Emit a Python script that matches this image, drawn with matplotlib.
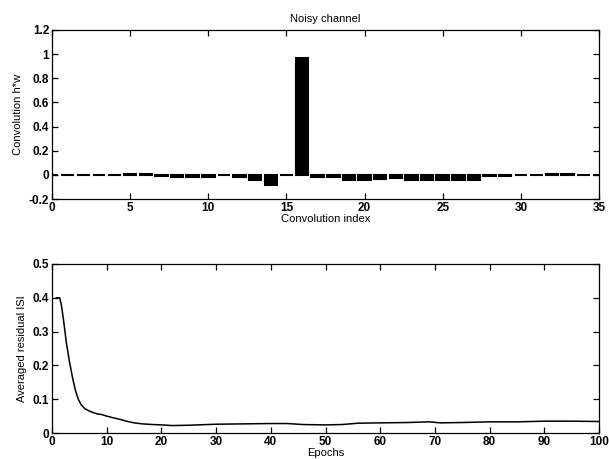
import numpy as np
import matplotlib
matplotlib.use("Agg")
import matplotlib.pyplot as plt
import matplotlib.ticker as mticker

plt.rcParams["font.family"] = ["Liberation Sans", "DejaVu Sans"]

# ── Data: convolution of channel and equalizer (noisy channel) ─────────────
conv_index = list(range(0, 36))
conv_value = [0.0, 0.0, 0.0, 0.0, 0.002, 0.01, 0.006, -0.01, -0.015, -0.015,
              -0.02, -0.005, -0.02, -0.04, -0.08, -0.005, 0.97, -0.02, -0.015, -0.04,
              -0.045, -0.035, -0.03, -0.04, -0.04, -0.04, -0.04, -0.04, -0.012, -0.01,
              -0.005, -0.003, 0.003, 0.005, 0.0, 0.0]

# ── Data: averaged residual ISI vs training epochs ─────────────────────────
epochs = [0.8, 1.4, 1.7, 2.1, 2.6, 3.2, 3.8, 4.3, 4.8, 5.4, 6.0, 6.8, 7.6, 8.4, 9.0,
          10.0, 11.2, 12.5, 13.6, 15.0, 16.5, 18.5, 20, 22, 25, 30, 35, 40, 43, 46,
          50, 53, 56, 60, 65, 69, 71, 75, 80, 85, 90, 95, 100]
isi = [0.40, 0.40, 0.38, 0.335, 0.27, 0.21, 0.16, 0.125, 0.10, 0.082, 0.072, 0.065,
       0.060, 0.056, 0.055, 0.050, 0.045, 0.040, 0.035, 0.030, 0.027, 0.025, 0.024,
       0.022, 0.023, 0.026, 0.027, 0.028, 0.028, 0.025, 0.024, 0.025, 0.029, 0.030,
       0.031, 0.033, 0.030, 0.031, 0.033, 0.033, 0.035, 0.035, 0.034]

conv_ticks_x = [0, 5, 10, 15, 20, 25, 30, 35]
conv_ticks_y = [-0.2, 0, 0.2, 0.4, 0.6, 0.8, 1.0, 1.2]
isi_ticks_x = list(range(0, 101, 10))
isi_ticks_y = [0, 0.1, 0.2, 0.3, 0.4, 0.5]

W, H = 609, 459
fig = plt.figure(figsize=(W / 100, H / 100), dpi=100, facecolor="white")

def box(l, t, r, b):
    return [l / W, 1 - b / H, (r - l) / W, (b - t) / H]

ax1 = fig.add_axes(box(52, 30, 599, 199))
ax2 = fig.add_axes(box(52, 264, 599, 433))

def style(ax):
    ax.tick_params(direction="in", length=4, width=0.9, top=True, right=True,
                   labelsize=8.5, pad=2, colors="black")
    for lab in ax.get_xticklabels() + ax.get_yticklabels():
        lab.set_fontweight("bold")
    for sp in ax.spines.values():
        sp.set_linewidth(0.9)
    ax.xaxis.set_major_formatter(mticker.FormatStrFormatter("%g"))
    ax.yaxis.set_major_formatter(mticker.FormatStrFormatter("%g"))

# ── Top: bar chart ─────────────────────────────────────────────────────────
ax1.bar(conv_index, conv_value, width=0.8, color="black", edgecolor="black", linewidth=1.5)
ax1.set_xlim(0, 35)
ax1.set_ylim(-0.2, 1.2)
ax1.set_xticks(conv_ticks_x)
ax1.set_yticks(conv_ticks_y)
style(ax1)
ax1.set_title("Noisy channel", fontsize=8, pad=6)
ax1.set_xlabel("Convolution index", fontsize=8, labelpad=0)
ax1.set_ylabel("Convolution h*w", fontsize=8, labelpad=4)

# ── Bottom: residual ISI curve ─────────────────────────────────────────────
ax2.plot(epochs, isi, color="black", linewidth=1.1)
ax2.set_xlim(0, 100)
ax2.set_ylim(0, 0.5)
ax2.set_xticks(isi_ticks_x)
ax2.set_yticks(isi_ticks_y)
style(ax2)
ax2.set_xlabel("Epochs", fontsize=8, labelpad=0)
ax2.set_ylabel("Averaged residual ISI", fontsize=8, labelpad=4)

fig.savefig("out.png", dpi=100, facecolor="white")
